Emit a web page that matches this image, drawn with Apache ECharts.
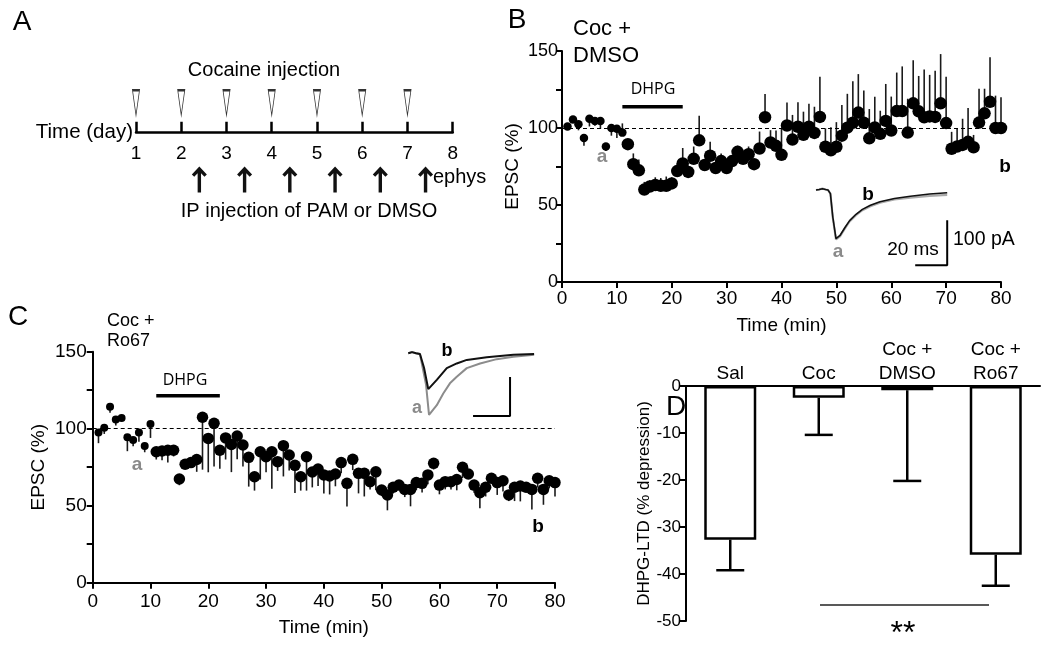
<!DOCTYPE html>
<html><head><meta charset="utf-8">
<script src="https://cdn.jsdelivr.net/npm/echarts@6/dist/echarts.min.js"></script>
<style>html,body{margin:0;padding:0;background:#fff}#c{width:1050px;height:645px}</style>
</head><body><div id="c"></div>
<script>
// ---------- Panel A ----------
const days = [1,2,3,4,5,6,7,8];
const cocaineDays = [1,2,3,4,5,6,7];
const ipDays = [2.4,3.4,4.4,5.4,6.4,7.4];

// ---------- Panel B (Coc + DMSO) ----------
const timeB = [1,2,3,4,5,6,7,8,9,10,11,12,13,14,15,16,17,18,19,20,21,22,23,24,25,26,27,28,29,30,31,32,33,34,35,36,37,38,39,40,41,42,43,44,45,46,47,48,49,50,51,52,53,54,55,56,57,58,59,60,61,62,63,64,65,66,67,68,69,70,71,72,73,74,75,76,77,78,79,80];
const epscB = [101,105.5,102.5,93.5,106,104.5,104.5,88,100,99.5,97,89.5,76.5,72.5,60,62,63,62.5,62.5,64,
  72,77,71.5,80,92,76,82,74,78.5,74,78.5,84.5,80,83,76.5,86.7,107,90.6,88.4,82.6,
  101.6,92.5,100.8,95.6,100.8,96.8,107.2,87.8,85.5,87.8,95,100.2,103.4,110,103.4,93.3,100.3,96.2,104.6,98.4,
  111,111,97,116,110.8,107,107.5,107.2,116,103.2,86.5,88,89,91,87.5,103.5,109.5,117,100,100];
const errB = [0,0,-4,-5,-5,-3,-5,-3,-5,-6,6,0,7,7,5,4,5,5,6,4,
  5,10,4,8,16,3,9,3,5,2,3,4,4,5,2,11,15,8,10,17,
  15,16,16,15,15,17,26,12,15,16,20,22,27,25,21,19,20,15,24,22,
  25,29,22,28,23,31,27,30,32,30,11,12,17,22,8,22,16,29,21,20];

// ---------- Panel C (Coc + Ro67) ----------
const timeC = timeB;
const epscC = [97.6,100.6,114.3,106,107,94.4,92.6,97.6,88.7,103,85,85.5,86,86,67.3,76.9,78,80,107.4,93.7,
  103.5,86,94,89.8,95.2,89.4,81.4,68.8,85,81.8,85,78.6,89,82.9,76.2,68.8,81.8,71.9,73.8,70,
  69.3,70.6,78,64.5,80.1,71,71,65.6,72,60.2,57,62,63.4,60.6,60.6,65,64.5,70,77.5,63.4,
  65.6,65.6,67,75,70.6,63.4,58.4,62,67.8,65,66.2,57,62,62.8,62,60.6,67.8,60.6,66.2,65];
const errC = [-7,-4,-4,-4,-2,-9,-4,-6,-4,-9,-5,-6,-8,-4,-4,-3,-3,-8,-34,-22,
  -28,-12,-14,-18,-15,-14,-19,-9,-18,-10,-24,-6,-20,-10,-18,-9,-22,-10,-11,-12,
  -12,-8,-7,-15,-7,-13,-15,-5,-12,-4,-10,-4,-2,-5,-11,-5,-6,-6,-4,-6,
  -5,-5,-7,-7,-3,-5,-10,-6,-3,-8,-7,-4,-9,-10,-3,-13,-6,-10,-5,-9];
const dhpgWindow = [11, 22];

// ---------- Inset traces (ms, pA) ----------
const traceB_b = [[0,0],[2,1],[4,3],[6,1],[7.5,0],[9,-8],[10.5,-60],[12.5,-108],[13.5,-110],[15,-101],[18,-84],[21,-68],[25,-54],[29,-43],[34,-34],[40,-26],[49,-19],[59,-14],[71,-9],[82,-6]];
const traceB_a = [[0,0],[2,1],[4,3],[6,1],[7.5,0],[9,-8],[10.5,-62],[12.5,-110],[13.5,-112],[15,-103],[18,-86],[21,-70],[25,-56],[29,-45],[34,-36],[40,-28],[49,-21],[59,-17],[71,-13],[82,-11]];
const traceC_b = [[0,0],[2,3],[4.2,0],[6.3,-2],[8.5,-37],[10.8,-92],[15.4,-68],[20.8,-38],[26.2,-26],[31.6,-17],[42.4,-10],[56.8,-4],[68,-2]];
const traceC_a = [[0,0],[2,3],[4.2,0],[6.3,-2],[9.6,-81],[11.2,-158],[15.4,-133],[18.9,-103],[22.5,-77],[26.2,-60],[31.6,-38],[38.8,-26],[47.8,-15],[56.8,-9],[68,-4]];
const scaleB = [[62,-167],[82,-167],[82,-67]];
const scaleC = [[35,-161],[55,-161],[55,-61]];

// ---------- Panel D ----------
const groupsD = ['Sal','Coc','Coc +\nDMSO','Coc +\nRo67'];
const ltdD = [-32.7,-2.5,-0.9,-35.9];
const semD = [6.5,7.9,19.3,6.6];

const FONT = "'Liberation Sans', Arial, sans-serif";
const chart = echarts.init(document.getElementById('c'), null, {renderer:'canvas'});

function errSeries(xi, times, vals, errs){
  return {type:'custom', xAxisIndex:xi, yAxisIndex:xi, z:2, silent:true,
    data: times.map((t,i)=>[t, vals[i], vals[i]+errs[i]]),
    renderItem(params, api){
      const p1 = api.coord([api.value(0), api.value(1)]);
      const p2 = api.coord([api.value(0), api.value(2)]);
      return {type:'line', shape:{x1:p1[0],y1:p1[1],x2:p2[0],y2:p2[1]}, style:{stroke:'#1a1a1a', lineWidth:1.6}};
    }};
}
const axisBlack = {lineStyle:{color:'#000', width:2}};
function mainX(fs, margin, gap){
  return {type:'value', min:0, max:80, interval:10, axisLine:axisBlack, axisTick:{length:6, lineStyle:{width:2,color:'#000'}},
    axisLabel:{fontSize:fs, color:'#000', fontFamily:FONT, margin:margin}, splitLine:{show:false},
    name:'Time (min)', nameLocation:'middle', nameGap:gap, nameTextStyle:{fontSize:19, color:'#000', fontFamily:FONT}};
}
function mainY(fs, margin, gap){
  return {type:'value', min:0, max:150, interval:25, axisLine:{show:true, ...axisBlack}, axisTick:{show:true, length:6, lineStyle:{width:2,color:'#000'}},
    axisLabel:{fontSize:fs, color:'#000', fontFamily:FONT, margin:margin, formatter:v=> (v%50===0? String(v):'')}, splitLine:{show:false},
    name:'EPSC (%)', nameLocation:'middle', nameGap:gap, nameTextStyle:{fontSize:19, color:'#000', fontFamily:FONT}};
}
const hidden = (min,max)=>({type:'value', min, max, show:false, splitLine:{show:false}});

const option = {
  animation:false,
  backgroundColor:'#fff',
  grid:[
    {left:136, top:60, width:316.7, height:72.7},
    {left:562, top:51, width:439, height:231},
    {left:816, top:185.5, width:131.2, height:85.5},
    {left:92.7, top:351.7, width:462.3, height:231},
    {left:408.3, top:349.4, width:125.8, height:70.2},
    {left:686, top:386, width:354, height:235}
  ],
  xAxis:[
    {gridIndex:0, type:'value', min:1, max:8, interval:1,
      axisLine:{lineStyle:{color:'#000', width:2.5}},
      axisTick:{inside:true, length:11, lineStyle:{color:'#000', width:2.5}},
      axisLabel:{fontSize:19, color:'#000', fontFamily:FONT, margin:12}, splitLine:{show:false},
      name:'Time (day)', nameLocation:'start', nameGap:3, nameTextStyle:{fontSize:20.5, color:'#000', fontFamily:FONT, padding:[6,0,0,0]}},
    {gridIndex:1, ...mainX(19,7,34)},
    {gridIndex:2, ...hidden(0,82)},
    {gridIndex:3, ...mainX(19,10,36)},
    {gridIndex:4, ...hidden(0,68)},
    {gridIndex:5, type:'category', data:groupsD, position:'top',
      axisLine:{lineStyle:{color:'#000', width:2}}, axisTick:{show:false},
      axisLabel:{fontSize:19, color:'#000', fontFamily:FONT, margin:0, lineHeight:24, interval:0}}
  ],
  yAxis:[
    {gridIndex:0, ...hidden(0,10)},
    {gridIndex:1, ...mainY(18,4,40)},
    {gridIndex:2, ...hidden(-180,10)},
    {gridIndex:3, ...mainY(19,6,44)},
    {gridIndex:4, ...hidden(-170,10)},
    {gridIndex:5, type:'value', min:-50, max:0, interval:10,
      axisLine:{show:true, lineStyle:{color:'#000', width:2}}, axisTick:{show:true, length:6, lineStyle:{width:2,color:'#000'}},
      axisLabel:{fontSize:17, color:'#000', fontFamily:FONT, margin:5}, splitLine:{show:false},
      name:'DHPG-LTD (% depression)', nameLocation:'middle', nameGap:25, nameTextStyle:{fontSize:17, color:'#000', fontFamily:FONT}}
  ],
  series:[
    // Panel A
    {type:'scatter', xAxisIndex:0, yAxisIndex:0, clip:false, silent:true,
      data: cocaineDays.map(d=>[d,4.13]), symbol:'path://M0,0 L6,0 L3,25 Z', symbolSize:[7,25],
      itemStyle:{color:'#fff', borderColor:'#333', borderWidth:1.3, opacity:1}},
    {type:'scatter', xAxisIndex:0, yAxisIndex:0, clip:false, silent:true,
      data: ipDays.map(d=>[d,-6.44]), symbol:'path://M7.5,0 L15,8 L12.6,10.2 L9.2,6.8 L9.2,26 L5.8,26 L5.8,6.8 L2.4,10.2 L0,8 Z', symbolSize:[15,26],
      itemStyle:{color:'#111', opacity:1}},
    // Panel B
    errSeries(1, timeB, epscB, errB),
    {type:'scatter', xAxisIndex:1, yAxisIndex:1, z:3, silent:true,
      data: timeB.map((t,i)=>[t, epscB[i]]), symbolSize:v=> v[0]<=11 ? 8.5 : 12.5, itemStyle:{color:'#000', opacity:1},
      markLine:{silent:true, symbol:['none','none'], label:{show:false}, data:[{yAxis:100}], lineStyle:{color:'#000', type:[4,3], width:1}}},
    {type:'line', xAxisIndex:1, yAxisIndex:1, data:[[dhpgWindow[0],113.8],[dhpgWindow[1],113.8]], symbol:'none', lineStyle:{color:'#000', width:3.5}, silent:true},
    // inset B
    {type:'line', xAxisIndex:2, yAxisIndex:2, data:traceB_a, symbol:'none', lineStyle:{color:'#aaa', width:2.2}, silent:true},
    {type:'line', xAxisIndex:2, yAxisIndex:2, data:traceB_b, symbol:'none', lineStyle:{color:'#111', width:1.6}, silent:true},
    {type:'line', xAxisIndex:2, yAxisIndex:2, data:scaleB, symbol:'none', lineStyle:{color:'#000', width:2}, silent:true},
    // Panel C
    errSeries(3, timeC, epscC, errC),
    {type:'scatter', xAxisIndex:3, yAxisIndex:3, z:3, silent:true,
      data: timeC.map((t,i)=>[t, epscC[i]]), symbolSize:v=> v[0]<=10 ? 8 : 11.5, itemStyle:{color:'#000', opacity:1},
      markLine:{silent:true, symbol:['none','none'], label:{show:false}, data:[{yAxis:100}], lineStyle:{color:'#000', type:[4,3], width:1}}},
    {type:'line', xAxisIndex:3, yAxisIndex:3, data:[[dhpgWindow[0],121.4],[dhpgWindow[1],121.4]], symbol:'none', lineStyle:{color:'#000', width:3.5}, silent:true},
    // inset C
    {type:'line', xAxisIndex:4, yAxisIndex:4, data:traceC_a, symbol:'none', lineStyle:{color:'#8c8c8c', width:2}, silent:true},
    {type:'line', xAxisIndex:4, yAxisIndex:4, data:traceC_b, symbol:'none', lineStyle:{color:'#111', width:2}, silent:true},
    {type:'line', xAxisIndex:4, yAxisIndex:4, data:scaleC, symbol:'none', lineStyle:{color:'#000', width:2}, silent:true},
    // Panel D
    {type:'bar', xAxisIndex:5, yAxisIndex:5, data:ltdD, barWidth:52, silent:true,
      itemStyle:{color:'#fff', borderColor:'#000', borderWidth:2.5}},
    {type:'custom', xAxisIndex:5, yAxisIndex:5, z:3, silent:true,
      data: groupsD.map((g,i)=>[i, ltdD[i], ltdD[i]-semD[i]]),
      renderItem(params, api){
        const p1 = api.coord([api.value(0), api.value(1)]);
        const p2 = api.coord([api.value(0), api.value(2)]);
        return {type:'group', children:[
          {type:'line', shape:{x1:p1[0],y1:p1[1],x2:p2[0],y2:p2[1]}, style:{stroke:'#000', lineWidth:2.5}},
          {type:'line', shape:{x1:p2[0]-14,y1:p2[1],x2:p2[0]+14,y2:p2[1]}, style:{stroke:'#000', lineWidth:2.5}}
        ]};
      }}
  ],
  graphic:[]
};

function txt(t, x, y, size, opts={}){
  return {type:'text', x, y, silent:true, style:{text:t, fill:opts.fill||'#000', font:(opts.weight||'normal')+' '+size+'px '+(opts.family||FONT),
    align:opts.align||'center', verticalAlign:'middle'}};
}
option.graphic = [
  txt('A', 22, 22, 28), txt('B', 517, 20, 28), txt('C', 18, 317, 28), txt('D', 676, 407, 28),
  txt('Cocaine injection', 264, 70, 20),
  txt('IP injection of PAM or DMSO', 309, 211, 20),
  txt('ephys', 433, 177, 20, {align:'left'}),
  txt('Coc +', 573, 29, 22, {align:'left'}), txt('DMSO', 573, 56, 22, {align:'left'}),
  txt('Coc +', 107, 321, 18, {align:'left'}), txt('Ro67', 107, 341, 18, {align:'left'}),
  txt('DHPG', 653, 89, 16, {family:"'Open Sans', sans-serif"}),
  txt('DHPG', 185, 380, 16, {family:"'Open Sans', sans-serif"}),
  txt('20 ms', 913, 250, 19), txt('100 pA', 953, 240, 19.5, {align:'left'}),
  txt('a', 602, 157, 19, {fill:'#8a8a8a', weight:'bold'}),
  txt('b', 1005, 167, 19, {weight:'bold'}),
  txt('a', 838, 252, 19, {fill:'#8a8a8a', weight:'bold'}),
  txt('b', 868, 195, 19, {weight:'bold'}),
  txt('a', 137, 465, 19, {fill:'#8a8a8a', weight:'bold'}),
  txt('b', 538, 527, 19, {weight:'bold'}),
  txt('a', 417, 408, 18, {fill:'#8a8a8a', weight:'bold'}),
  txt('b', 447, 351, 18, {weight:'bold'}),
  {type:'line', silent:true, shape:{x1:820, y1:605, x2:989, y2:605}, style:{stroke:'#222', lineWidth:1.3}},
  txt('**', 903, 634, 32)
];
chart.setOption(option);
</script>
</body></html>
